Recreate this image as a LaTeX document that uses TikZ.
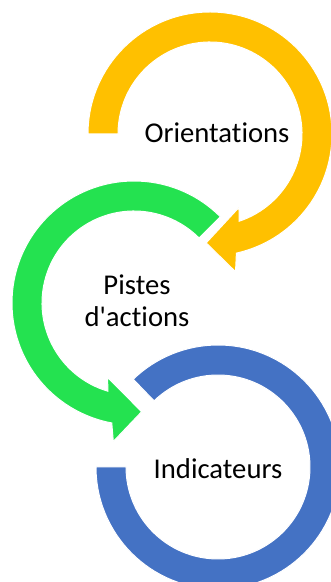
\documentclass[tikz,border=0pt]{standalone}
\usepackage{fontspec}
\setmainfont{Carlito}[Ligatures={TeXOff,CommonOff}]
\definecolor{orientyellow}{HTML}{FFC000}
\definecolor{pistegreen}{HTML}{24E250}
\definecolor{indicblue}{HTML}{4472C4}
\begin{document}
\begin{tikzpicture}[x=0.75pt,y=0.75pt,
    ring/.style={draw=white,line width=0.75pt},
    ringtext/.style={font=\fontsize{21.5}{24}\selectfont,align=center,inner sep=0pt}]
  \useasboundingbox (0,0) rectangle (331,582);
  % blue ring, no head
  \begin{scope}[shift={(218,115)}]
    \fill[indicblue,ring] (180:122) arc[start angle=180,end angle=494,radius=122]
      -- (494:92) arc[start angle=494,end angle=180,radius=92] -- cycle;
  \end{scope}
  % green ring, head at the bottom
  \begin{scope}[shift={(134,279)}]
    \fill[pistegreen,ring] (45:122) arc[start angle=45,end angle=259.5,radius=122]
      -- (261.5:140) -- (274:109) -- (250.5:79) -- (253.5:92)
      arc[start angle=253.5,end angle=45,radius=92] -- cycle;
  \end{scope}
  % yellow ring, head at the bottom left
  \begin{scope}[shift={(210,448)}]
    \fill[orientyellow,ring] (180:122) arc[start angle=180,end angle=-77.5,radius=122]
      -- (-79.5:140) -- (-92:109) -- (-68.5:79) -- (-71.5:92)
      arc[start angle=-71.5,end angle=180,radius=92] -- cycle;
  \end{scope}
  \node[ringtext] (orient) at (217,449) {Orientations};
  \node[ringtext] (pistes) at (137,281) {Pistes\\d'actions};
  \node[ringtext] (indic) at (218,113) {Indicateurs};
\end{tikzpicture}
\end{document}
